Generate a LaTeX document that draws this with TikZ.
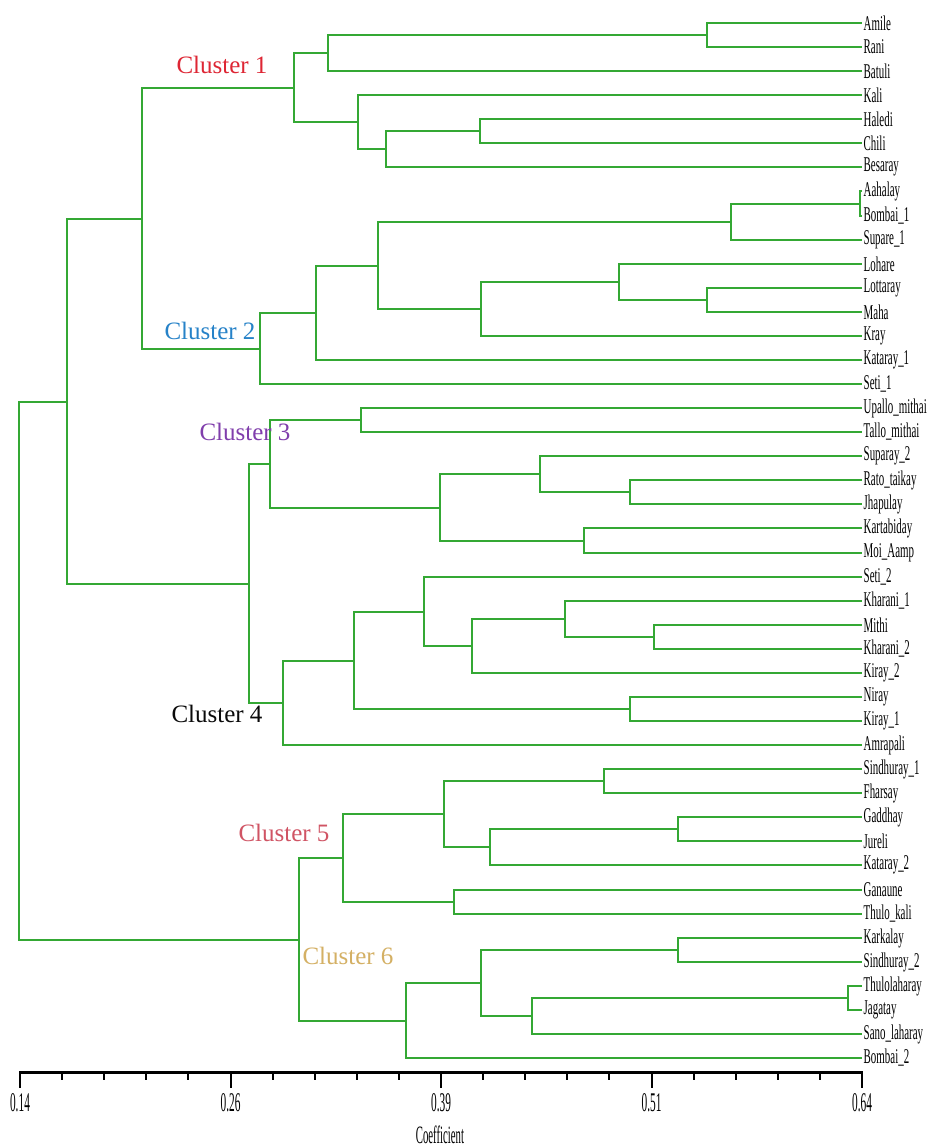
\documentclass[tikz,border=0pt]{standalone}
\usepackage{fontspec}
\setmainfont{Liberation Serif}
\usetikzlibrary{calc}
\definecolor{branch}{RGB}{52,168,52}
\definecolor{cOne}{RGB}{222,38,52}
\definecolor{cTwo}{RGB}{38,130,200}
\definecolor{cThree}{RGB}{128,62,172}
\definecolor{cFour}{RGB}{10,10,10}
\definecolor{cFive}{RGB}{208,84,100}
\definecolor{cSix}{RGB}{212,176,100}
% condensed text, as set by the plotting program
\newcommand\narrowtext[2]{\scalebox{#1}[1]{#2}}
% join two subtrees #3 and #4 at height #2 (in px), naming the joint #1
\newcommand\joinat[4]{%
  \path let \p1=(#3), \p2=(#4) in ({#2pt},{round(0.5*\y1+0.5*\y2)*1pt}) coordinate (#1);
  \draw[br] (#1) |- (#3) (#1) |- (#4);}
\begin{document}
\begin{tikzpicture}[x=1pt,y=-1pt,
  br/.style={draw=branch,line width=2pt},
  leaf/.style={anchor=west,inner sep=1.5pt,font=\fontsize{21}{21}\selectfont},
  clab/.style={inner sep=0pt,font=\fontsize{25}{25}\selectfont},
  axisline/.style={draw=black,line width=3pt},
  tick/.style={draw=black,line width=2pt},
  ticklab/.style={inner sep=0pt,font=\fontsize{27}{27}\selectfont}]
\useasboundingbox (0,0) rectangle (931,1147);
\fill[white] (0,0) rectangle (931,1147);

% leaves
\foreach \nm [count=\i from 0] in {Amile,Rani,Batuli,Kali,Haledi,Chili,Besaray,Aahalay,Bombai\_1,Supare\_1,Lohare,Lottaray,Maha,Kray,Kataray\_1,Seti\_1,Upallo\_mithai,Tallo\_mithai,Suparay\_2,Rato\_taikay,Jhapulay,Kartabiday,Moi\_Aamp,Seti\_2,Kharani\_1,Mithi,Kharani\_2,Kiray\_2,Niray,Kiray\_1,Amrapali,Sindhuray\_1,Fharsay,Gaddhay,Jureli,Kataray\_2,Ganaune,Thulo\_kali,Karkalay,Sindhuray\_2,Thulolaharay,Jagatay,Sano\_laharay,Bombai\_2}{
  \pgfmathtruncatemacro\ly{round(23+24.07*\i)}
  \coordinate (L\i) at (862,\ly);
  \node[leaf] (T\i) at (L\i) {\narrowtext{0.52}{\nm}};
}

% Cluster 1
\joinat{A1}{707}{L0}{L1}
\joinat{A2}{328}{A1}{L2}
\joinat{A3}{480}{L4}{L5}
\joinat{A4}{386}{A3}{L6}
\joinat{A5}{358}{L3}{A4}
\joinat{A6}{294}{A2}{A5}
% Cluster 2
\joinat{B1}{860}{L7}{L8}
\joinat{B2}{731}{B1}{L9}
\joinat{B3}{707}{L11}{L12}
\joinat{B4}{619}{L10}{B3}
\joinat{B5}{481}{B4}{L13}
\joinat{B6}{378}{B2}{B5}
\joinat{B7}{316}{B6}{L14}
\joinat{B8}{260}{B7}{L15}
\joinat{C12}{142}{A6}{B8}
% Cluster 3
\joinat{D1}{361}{L16}{L17}
\joinat{D2}{630}{L19}{L20}
\joinat{D3}{540}{L18}{D2}
\joinat{D4}{584}{L21}{L22}
\joinat{D5}{440}{D3}{D4}
\joinat{D6}{270}{D1}{D5}
% Cluster 4
\joinat{E1}{654}{L25}{L26}
\joinat{E2}{565}{L24}{E1}
\joinat{E3}{472}{E2}{L27}
\joinat{E4}{424}{L23}{E3}
\joinat{E5}{630}{L28}{L29}
\joinat{E6}{354}{E4}{E5}
\joinat{E7}{283}{E6}{L30}
\joinat{C34}{249}{D6}{E7}
\joinat{C14}{67}{C12}{C34}
% Cluster 5
\joinat{F1}{604}{L31}{L32}
\joinat{F2}{678}{L33}{L34}
\joinat{F3}{490}{F2}{L35}
\joinat{F4}{444}{F1}{F3}
\joinat{F5}{454}{L36}{L37}
\joinat{F6}{343}{F4}{F5}
% Cluster 6
\joinat{G1}{678}{L38}{L39}
\joinat{G2}{848}{L40}{L41}
\joinat{G3}{532}{G2}{L42}
\joinat{G4}{481}{G1}{G3}
\joinat{G5}{406}{G4}{L43}
\joinat{C56}{299}{F6}{G5}
\joinat{R}{19}{C14}{C56}

% cluster names
\node[clab,text=cOne]   (n1) at (222,65)  {Cluster 1};
\node[clab,text=cTwo]   (n2) at (210,331) {Cluster 2};
\node[clab,text=cThree] (n3) at (245,432) {Cluster 3};
\node[clab,text=cFour]  (n4) at (217,714) {Cluster 4};
\node[clab,text=cFive]  (n5) at (284,833) {Cluster 5};
\node[clab,text=cSix]   (n6) at (348,956) {Cluster 6};

% coefficient axis
\coordinate (ax0) at (20,1072);
\coordinate (ax1) at (862,1072);
\draw[axisline] (ax0) -- (ax1);
\foreach \k in {0,...,20}{
  \pgfmathtruncatemacro\tx{round(20+42.1*\k)}
  \pgfmathtruncatemacro\md{mod(\k,5)}
  \ifnum\md=0
    \draw[tick] (\tx,1071) -- (\tx,1088);
  \else
    \draw[tick] (\tx,1071) -- (\tx,1080);
  \fi
}
\foreach \k/\v in {0/0.14,5/0.26,10/0.39,15/0.51,20/0.64}{
  \node[ticklab] (v\k) at ({20+42.1*\k},1103) {\narrowtext{0.42}{\v}};
}
\node[inner sep=0pt,font=\fontsize{25}{25}\selectfont] (coef) at (440,1135) {\narrowtext{0.43}{Coefficient}};
\end{tikzpicture}
\end{document}
